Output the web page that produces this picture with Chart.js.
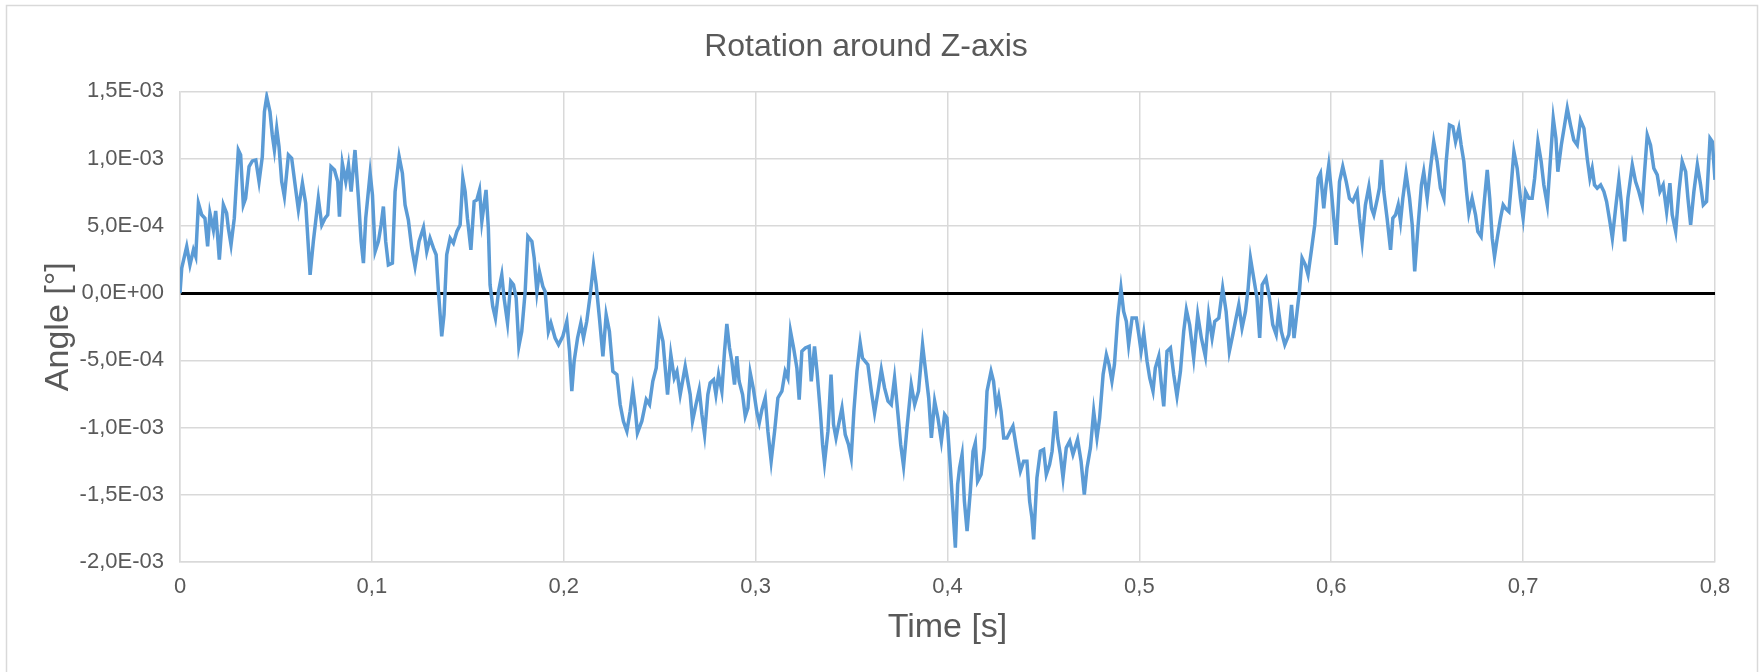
<!DOCTYPE html>
<html>
<head>
<meta charset="utf-8">
<title>Rotation around Z-axis</title>
<script src="https://cdn.jsdelivr.net/npm/chart.js@4.4.1/dist/chart.umd.min.js"></script>
<style>
  html, body { margin: 0; padding: 0; background: #fff; }
  canvas { display: block; }
</style>
</head>
<body>
<canvas id="rotChart" width="1759" height="672"></canvas>
<script>
// time [s]
const timeS = [
  0.0000, 0.0009, 0.0035, 0.0052, 0.0070, 0.0082, 0.0096, 0.0113, 0.0130, 0.0144,
  0.0156, 0.0174, 0.0186, 0.0205, 0.0226, 0.0243, 0.0252, 0.0266, 0.0283, 0.0304,
  0.0316, 0.0330, 0.0342, 0.0360, 0.0377, 0.0395, 0.0412, 0.0429, 0.0440, 0.0452,
  0.0469, 0.0481, 0.0492, 0.0504, 0.0516, 0.0530, 0.0544, 0.0565, 0.0582, 0.0600,
  0.0617, 0.0638, 0.0655, 0.0678, 0.0695, 0.0721, 0.0739, 0.0756, 0.0770, 0.0787,
  0.0805, 0.0822, 0.0831, 0.0846, 0.0864, 0.0878, 0.0892, 0.0912, 0.0930, 0.0944,
  0.0956, 0.0968, 0.0991, 0.1003, 0.1017, 0.1034, 0.1048, 0.1060, 0.1072, 0.1086,
  0.1107, 0.1121, 0.1142, 0.1159, 0.1173, 0.1190, 0.1208, 0.1225, 0.1246, 0.1269,
  0.1286, 0.1303, 0.1321,
  0.1335, 0.1347, 0.1364, 0.1376, 0.1390, 0.1408, 0.1425, 0.1443, 0.1460, 0.1474,
  0.1486, 0.1498, 0.1516, 0.1533, 0.1547, 0.1561, 0.1573, 0.1595, 0.1607, 0.1616,
  0.1630, 0.1644, 0.1660, 0.1677, 0.1689, 0.1707, 0.1724, 0.1738, 0.1752, 0.1766,
  0.1781, 0.1799, 0.1813, 0.1834, 0.1846, 0.1860, 0.1873, 0.1891, 0.1903, 0.1920,
  0.1933, 0.1955, 0.1973, 0.1995, 0.2016, 0.2030, 0.2042, 0.2054, 0.2072, 0.2089,
  0.2103, 0.2120, 0.2138, 0.2155, 0.2169, 0.2186, 0.2204, 0.2221, 0.2238, 0.2256,
  0.2277, 0.2294, 0.2311, 0.2329, 0.2346, 0.2360, 0.2372, 0.2384, 0.2407, 0.2430,
  0.2447, 0.2464, 0.2482, 0.2499, 0.2517, 0.2541, 0.2558, 0.2576, 0.2590, 0.2607,
  0.2633,
  0.2659, 0.2671, 0.2689, 0.2706, 0.2720, 0.2734, 0.2751, 0.2763, 0.2781, 0.2793,
  0.2807, 0.2824, 0.2838, 0.2850, 0.2864, 0.2876, 0.2890, 0.2902, 0.2914, 0.2932,
  0.2946, 0.2960, 0.2972, 0.2989, 0.3007, 0.3019, 0.3033, 0.3050, 0.3064, 0.3081,
  0.3099, 0.3116, 0.3137, 0.3154, 0.3168, 0.3182, 0.3198, 0.3215, 0.3227, 0.3241,
  0.3259, 0.3279, 0.3290, 0.3307, 0.3320, 0.3337, 0.3349, 0.3359, 0.3377, 0.3393,
  0.3406, 0.3419, 0.3436, 0.3450, 0.3467, 0.3484, 0.3498, 0.3512, 0.3528, 0.3545,
  0.3557, 0.3571, 0.3585, 0.3603, 0.3620, 0.3638, 0.3655, 0.3672, 0.3690, 0.3707,
  0.3724, 0.3742, 0.3756, 0.3771, 0.3789, 0.3811, 0.3829, 0.3849, 0.3870, 0.3884,
  0.3902, 0.3916, 0.3933, 0.3950, 0.3968, 0.3985,
  0.3997, 0.4015, 0.4029, 0.4041, 0.4053, 0.4063, 0.4076, 0.4088, 0.4102, 0.4119,
  0.4133, 0.4145, 0.4157, 0.4175, 0.4192, 0.4206, 0.4227, 0.4240, 0.4254, 0.4267,
  0.4279, 0.4293, 0.4310, 0.4327, 0.4341, 0.4359, 0.4380, 0.4397, 0.4414, 0.4428,
  0.4440, 0.4449, 0.4466, 0.4484, 0.4501, 0.4515, 0.4532, 0.4545, 0.4562, 0.4574,
  0.4588, 0.4602, 0.4619, 0.4637, 0.4654, 0.4678, 0.4696, 0.4713, 0.4727, 0.4745,
  0.4762, 0.4779, 0.4793, 0.4811, 0.4828, 0.4842, 0.4857, 0.4870, 0.4887, 0.4904,
  0.4918, 0.4932, 0.4944, 0.4962, 0.4984, 0.4997, 0.5009, 0.5023, 0.5040, 0.5054,
  0.5071, 0.5083, 0.5101, 0.5113, 0.5127, 0.5144, 0.5162, 0.5179, 0.5196, 0.5214,
  0.5231, 0.5245, 0.5262, 0.5283, 0.5304,
  0.5323, 0.5344, 0.5361, 0.5379, 0.5393, 0.5414, 0.5434, 0.5452, 0.5469, 0.5487,
  0.5504, 0.5518, 0.5535, 0.5553, 0.5567, 0.5579, 0.5596, 0.5613, 0.5627, 0.5640,
  0.5660, 0.5678, 0.5695, 0.5713, 0.5726, 0.5740, 0.5758, 0.5779, 0.5793, 0.5806,
  0.5822, 0.5834, 0.5848, 0.5865, 0.5879, 0.5897, 0.5914, 0.5932, 0.5944, 0.5961,
  0.5973, 0.5987, 0.6001, 0.6013, 0.6026, 0.6043, 0.6060, 0.6078, 0.6095, 0.6112,
  0.6135, 0.6147, 0.6161, 0.6178, 0.6196, 0.6210, 0.6222, 0.6239, 0.6251, 0.6262,
  0.6274, 0.6291, 0.6309, 0.6321, 0.6335, 0.6349, 0.6361, 0.6373, 0.6390, 0.6408,
  0.6422, 0.6435, 0.6453, 0.6470, 0.6482, 0.6500, 0.6517, 0.6534, 0.6552, 0.6569,
  0.6587, 0.6599, 0.6616, 0.6634, 0.6648,
  0.6665, 0.6677, 0.6691, 0.6705, 0.6717, 0.6734, 0.6752, 0.6764, 0.6781, 0.6799,
  0.6813, 0.6826, 0.6839, 0.6851, 0.6865, 0.6882, 0.6896, 0.6908, 0.6926, 0.6938,
  0.6952, 0.6969, 0.6986, 0.7000, 0.7013, 0.7030, 0.7047, 0.7060, 0.7077, 0.7094,
  0.7108, 0.7126, 0.7139, 0.7157, 0.7171, 0.7181, 0.7199, 0.7216, 0.7230, 0.7247,
  0.7264, 0.7282, 0.7299, 0.7317, 0.7334, 0.7348, 0.7360, 0.7372, 0.7386, 0.7404,
  0.7421, 0.7435, 0.7452, 0.7465, 0.7482, 0.7499, 0.7511, 0.7529, 0.7546, 0.7569,
  0.7586, 0.7603, 0.7621, 0.7633, 0.7647, 0.7664, 0.7681, 0.7699, 0.7713, 0.7730,
  0.7748, 0.7765, 0.7777, 0.7795, 0.7812, 0.7829, 0.7847, 0.7859, 0.7873, 0.7890,
  0.7908, 0.7925, 0.7939, 0.7956, 0.7974, 0.7986, 0.8000
];

// angle [°] at each time above
const angleDeg = [
  0, 1.86e-4, 3.47e-4, 2.10e-4, 3.22e-4, 2.72e-4, 6.68e-4, 5.82e-4, 5.57e-4, 3.47e-4,
  5.94e-4, 4.70e-4, 6.11e-4, 2.48e-4, 6.56e-4, 5.94e-4, 4.83e-4, 3.59e-4, 5.57e-4, 10.64e-4,
  10.27e-4, 6.56e-4, 7.05e-4, 9.41e-4, 9.83e-4, 9.90e-4, 8.29e-4, 10.15e-4, 13.49e-4, 14.60e-4,
  13.49e-4, 11.76e-4, 10.64e-4, 12.25e-4, 10.89e-4, 8.29e-4, 7.18e-4, 10.27e-4, 10.02e-4, 8.04e-4,
  6.19e-4, 8.17e-4, 6.68e-4, 1.36e-4, 3.84e-4, 7.05e-4, 5.07e-4, 5.57e-4, 5.82e-4, 9.41e-4,
  9.16e-4, 8.29e-4, 5.69e-4, 9.65e-4, 8.29e-4, 9.53e-4, 7.55e-4, 10.64e-4, 7.05e-4, 3.84e-4,
  2.23e-4, 5.57e-4, 8.91e-4, 7.30e-4, 3.09e-4, 3.84e-4, 5.07e-4, 6.44e-4, 3.84e-4, 2.10e-4,
  2.23e-4, 7.55e-4, 10.15e-4, 8.91e-4, 6.56e-4, 5.45e-4, 3.34e-4, 1.98e-4, 3.84e-4, 4.88e-4,
  3.09e-4, 4.08e-4, 3.34e-4,
  2.85e-4, 0.12e-4, -3.22e-4, -1.61e-4, 2.85e-4, 4.08e-4, 3.71e-4, 4.58e-4, 5.07e-4, 8.54e-4,
  7.55e-4, 5.57e-4, 3.22e-4, 6.81e-4, 6.93e-4, 7.67e-4, 5.32e-4, 7.67e-4, 4.83e-4, 0.62e-4,
  -0.99e-4, -1.86e-4, 0.12e-4, 1.36e-4, -0.37e-4, -2.23e-4, 0.87e-4, 0.62e-4, -0.37e-4, -3.96e-4,
  -2.85e-4, 0.12e-4, 4.21e-4, 3.84e-4, 2.60e-4, 0.12e-4, 1.61e-4, 0.50e-4, 0.12e-4, -2.85e-4,
  -2.23e-4, -3.34e-4, -3.84e-4, -3.22e-4, -2.10e-4, -4.33e-4, -7.30e-4, -5.07e-4, -3.34e-4, -2.23e-4,
  -3.34e-4, -2.10e-4, -0.12e-4, 2.10e-4, 0.62e-4, -1.86e-4, -4.70e-4, -1.61e-4, -2.85e-4, -5.82e-4,
  -6.06e-4, -8.29e-4, -9.53e-4, -10.27e-4, -8.79e-4, -7.18e-4, -8.54e-4, -10.40e-4, -9.53e-4, -7.92e-4,
  -8.29e-4, -6.56e-4, -5.57e-4, -2.48e-4, -3.59e-4, -7.55e-4, -4.58e-4, -6.31e-4, -5.82e-4, -7.55e-4,
  -5.45e-4,
  -7.55e-4, -9.53e-4, -8.29e-4, -7.18e-4, -9.03e-4, -10.52e-4, -7.55e-4, -6.68e-4, -6.44e-4, -7.55e-4,
  -6.06e-4, -7.30e-4, -4.33e-4, -2.30e-4, -4.08e-4, -5.07e-4, -6.81e-4, -4.70e-4, -6.56e-4, -7.55e-4,
  -9.16e-4, -8.54e-4, -5.94e-4, -7.18e-4, -8.91e-4, -9.65e-4, -8.66e-4, -7.80e-4, -10.27e-4, -12.50e-4,
  -10.27e-4, -7.80e-4, -7.30e-4, -5.82e-4, -6.31e-4, -2.85e-4, -4.08e-4, -5.57e-4, -7.92e-4, -4.33e-4,
  -4.08e-4, -3.96e-4, -6.56e-4, -3.96e-4, -5.82e-4, -8.79e-4, -11.26e-4, -12.62e-4, -10.27e-4, -6.06e-4,
  -9.78e-4, -10.77e-4, -9.53e-4, -8.54e-4, -10.52e-4, -11.26e-4, -12.25e-4, -8.79e-4, -5.82e-4, -3.71e-4,
  -4.83e-4, -5.07e-4, -5.32e-4, -7.30e-4, -8.91e-4, -7.30e-4, -5.69e-4, -7.05e-4, -8.04e-4, -8.29e-4,
  -6.31e-4, -9.03e-4, -11.26e-4, -12.87e-4, -10.02e-4, -6.81e-4, -8.29e-4, -7.30e-4, -3.84e-4, -5.57e-4,
  -7.80e-4, -10.77e-4, -8.04e-4, -9.28e-4, -11.01e-4, -9.03e-4,
  -9.28e-4, -13.00e-4, -16.21e-4, -18.94e-4, -14.23e-4, -13.00e-4, -12.00e-4, -15.47e-4, -17.70e-4, -14.73e-4,
  -11.76e-4, -11.14e-4, -13.99e-4, -13.49e-4, -11.51e-4, -7.30e-4, -5.82e-4, -6.56e-4, -8.54e-4, -7.67e-4,
  -8.79e-4, -10.77e-4, -10.77e-4, -10.27e-4, -9.90e-4, -11.51e-4, -13.24e-4, -12.50e-4, -12.50e-4, -15.47e-4,
  -16.71e-4, -18.32e-4, -13.74e-4, -11.76e-4, -11.63e-4, -13.49e-4, -12.75e-4, -11.76e-4, -8.79e-4, -10.77e-4,
  -12.00e-4, -13.74e-4, -11.51e-4, -11.01e-4, -12.00e-4, -10.89e-4, -12.50e-4, -14.98e-4, -13.00e-4, -11.51e-4,
  -8.79e-4, -10.77e-4, -9.28e-4, -6.06e-4, -4.58e-4, -5.32e-4, -6.56e-4, -5.32e-4, -1.86e-4, 0.37e-4,
  -1.36e-4, -2.10e-4, -3.84e-4, -1.86e-4, -1.86e-4, -3.09e-4, -4.33e-4, -2.97e-4, -5.07e-4, -6.31e-4,
  -7.30e-4, -5.57e-4, -4.70e-4, -6.56e-4, -8.42e-4, -4.33e-4, -4.08e-4, -6.06e-4, -7.67e-4, -5.82e-4,
  -2.85e-4, -1.24e-4, -2.35e-4, -4.83e-4, -1.61e-4,
  -3.34e-4, -4.70e-4, -1.61e-4, -3.34e-4, -2.10e-4, -1.86e-4, 0.37e-4, -1.36e-4, -4.33e-4, -3.09e-4,
  -1.86e-4, -0.87e-4, -2.60e-4, -1.36e-4, 0.37e-4, 2.60e-4, 1.11e-4, -0.37e-4, -3.34e-4, 0.62e-4,
  1.11e-4, -0.37e-4, -2.35e-4, -3.09e-4, -1.36e-4, -2.85e-4, -3.84e-4, -3.09e-4, -0.87e-4, -3.34e-4,
  -1.36e-4, 0.12e-4, 2.60e-4, 2.10e-4, 1.36e-4, 3.22e-4, 5.07e-4, 8.54e-4, 8.91e-4, 6.31e-4,
  8.04e-4, 9.53e-4, 7.55e-4, 5.57e-4, 3.59e-4, 8.29e-4, 9.41e-4, 8.29e-4, 7.05e-4, 6.81e-4,
  7.55e-4, 5.57e-4, 3.84e-4, 6.56e-4, 7.92e-4, 6.31e-4, 5.82e-4, 6.93e-4, 7.80e-4, 9.90e-4,
  7.55e-4, 5.57e-4, 3.22e-4, 5.57e-4, 5.82e-4, 6.56e-4, 5.32e-4, 7.05e-4, 8.91e-4, 7.05e-4,
  5.07e-4, 1.61e-4, 5.07e-4, 8.04e-4, 9.03e-4, 7.05e-4, 9.28e-4, 11.26e-4, 9.78e-4, 7.80e-4,
  7.05e-4, 9.78e-4, 12.50e-4, 12.38e-4, 11.26e-4,
  12.25e-4, 11.01e-4, 9.78e-4, 7.55e-4, 5.94e-4, 7.05e-4, 5.82e-4, 4.58e-4, 4.21e-4, 7.05e-4,
  9.16e-4, 7.05e-4, 4.08e-4, 2.72e-4, 4.08e-4, 5.57e-4, 6.56e-4, 6.31e-4, 6.06e-4, 8.04e-4,
  10.52e-4, 9.28e-4, 7.05e-4, 5.57e-4, 7.55e-4, 7.05e-4, 7.05e-4, 8.54e-4, 11.26e-4, 9.78e-4,
  8.04e-4, 6.56e-4, 9.28e-4, 13.00e-4, 11.51e-4, 9.03e-4, 11.01e-4, 12.50e-4, 13.74e-4, 12.50e-4,
  11.39e-4, 11.01e-4, 12.87e-4, 12.25e-4, 10.02e-4, 8.54e-4, 9.28e-4, 8.04e-4, 7.80e-4, 8.04e-4,
  7.55e-4, 6.81e-4, 5.32e-4, 4.08e-4, 6.31e-4, 8.42e-4, 6.81e-4, 3.84e-4, 7.05e-4, 9.53e-4,
  8.29e-4, 7.55e-4, 6.56e-4, 9.03e-4, 11.76e-4, 11.01e-4, 9.28e-4, 8.79e-4, 7.55e-4, 8.04e-4,
  6.06e-4, 8.17e-4, 5.82e-4, 4.58e-4, 7.55e-4, 9.78e-4, 9.03e-4, 7.05e-4, 5.07e-4, 7.55e-4,
  9.53e-4, 8.04e-4, 6.56e-4, 6.81e-4, 11.51e-4, 11.26e-4, 8.42e-4
];

// axis ranges and tick steps
const timeMin = 0, timeMax = 0.8, timeStep = 0.1;
const angleMin = -0.002, angleMax = 0.0015, angleStep = 0.0005;

const textGrey = '#595959';
const gridGrey = '#d9d9d9';
Chart.defaults.font.family = "'Liberation Sans', Arial, sans-serif";

// 0,1 style labels on the time axis
function commaLabel(v) {
    if (Math.abs(v) < 1e-9) return '0';
    return v.toFixed(1).replace('.', ',');
}

// 1,5E-03 style labels on the angle axis
function sciLabel(v) {
    if (Math.abs(v) < 1e-12) return '0,0E+00';
    const parts = v.toExponential(1).split('e');
    const exp = parseInt(parts[1], 10);
    return parts[0].replace('.', ',') + 'E' + (exp < 0 ? '-' : '+') + String(Math.abs(exp)).padStart(2, '0');
}

// white background and the thin outer frame
const framePlugin = {
    id: 'frame',
    beforeDraw(chart) {
        const ctx = chart.ctx;
        ctx.save();
        ctx.fillStyle = '#fff';
        ctx.fillRect(0, 0, chart.width, chart.height);
        ctx.strokeStyle = gridGrey;
        ctx.lineWidth = 1.5;
        ctx.strokeRect(6.5, 5.5, chart.width - 8, chart.height + 20);
        ctx.restore();
    }
};

const isZero = c => c.tick && Math.abs(c.tick.value) < 1e-12;

new Chart(document.getElementById('rotChart').getContext('2d'), {
    type: 'line',
    data: {
        datasets: [{
            label: 'Rotation around Z-axis',
            data: timeS.map((t, i) => ({ x: t, y: angleDeg[i] })),
            borderColor: '#5b9bd5',
            borderWidth: 3.5,
            pointRadius: 0,
            tension: 0,
            fill: false
        }]
    },
    options: {
        responsive: false,
        animation: false,
        devicePixelRatio: 1,
        layout: { padding: { left: 17, right: 44, top: 0, bottom: 0 } },
        plugins: {
            legend: { display: false },
            tooltip: { enabled: false },
            title: {
                display: true,
                text: 'Rotation around Z-axis',
                color: textGrey,
                font: { size: 32, weight: 'normal' },
                padding: { top: 28, bottom: 25 }
            }
        },
        scales: {
            x: {
                type: 'linear',
                min: timeMin,
                max: timeMax,
                ticks: { stepSize: timeStep, padding: 12, color: textGrey, font: { size: 22 }, maxRotation: 0, callback: commaLabel },
                grid: { color: gridGrey, lineWidth: 1.5, drawTicks: false },
                border: { color: gridGrey, width: 1.5 },
                title: { display: true, text: 'Time [s]', color: textGrey, font: { size: 34 }, padding: { top: 0, bottom: 24 } },
                afterFit(scale) { scale.height = 110; }
            },
            y: {
                min: angleMin,
                max: angleMax,
                ticks: { stepSize: angleStep, padding: 16, color: textGrey, font: { size: 22 }, callback: sciLabel },
                grid: {
                    color: c => isZero(c) ? '#000' : gridGrey,
                    lineWidth: c => isZero(c) ? 3 : 1.5,
                    drawTicks: false
                },
                border: { color: gridGrey, width: 1.5 },
                title: { display: true, text: 'Angle [°]', color: textGrey, font: { size: 34 }, padding: { top: 21, bottom: 0 } },
                afterFit(scale) { scale.width = 163; }
            }
        }
    },
    plugins: [framePlugin]
});
</script>
</body>
</html>
